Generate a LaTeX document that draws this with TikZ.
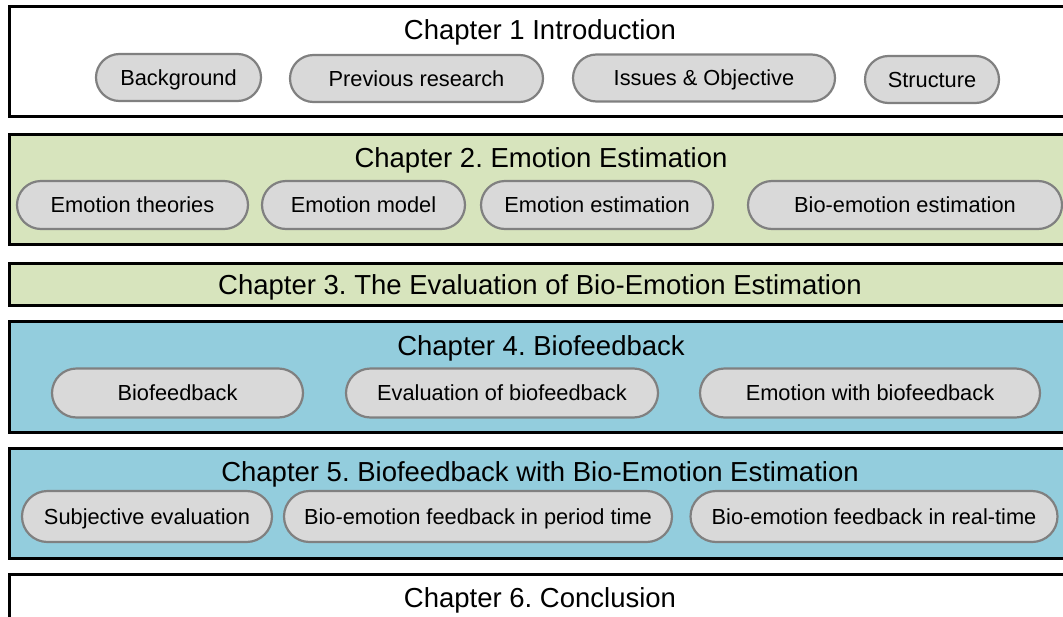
\documentclass[tikz,border=0pt]{standalone}
\usepackage{fontspec}
\setmainfont{Liberation Sans}
\frenchspacing
\definecolor{greenbg}{HTML}{D7E4BD}
\definecolor{bluebg}{HTML}{93CDDD}
\definecolor{pillfill}{HTML}{D9D9D9}
\definecolor{pillline}{HTML}{808080}
\begin{document}
\begin{tikzpicture}[x=1pt,y=-1pt,
  chapbox/.style={draw=black,line width=3pt},
  title/.style={font=\fontsize{27.5}{30}\selectfont\frenchspacing,inner sep=0pt,anchor=center,
    text height=19.7pt,text depth=0pt},
  pill/.style={draw=pillline,fill=pillfill,line width=2.2pt,rounded corners=23.5pt,
    minimum height=47pt,inner sep=0pt,font=\fontsize{21.8}{24}\selectfont,
    text height=15.6pt,text depth=0pt}]
\useasboundingbox (0,0) rectangle (1063,616);
\begin{scope}
\clip (0,0) rectangle (1063,616);
% chapter boxes
\draw[chapbox,fill=white] (9.5,6.5) rectangle (1075,116);
\draw[chapbox,fill=greenbg] (9.5,134.5) rectangle (1075,244);
\draw[chapbox,fill=greenbg] (9.5,263) rectangle (1075,305);
\draw[chapbox,fill=bluebg] (9.5,321.5) rectangle (1075,432);
\draw[chapbox,fill=bluebg] (9.5,448) rectangle (1075,558);
\draw[chapbox,fill=white] (9.5,574) rectangle (1075,640);
\end{scope}
% titles
\node[title] (t1) at (540,29.7) {Chapter 1 Introduction};
\node[title] (t2) at (541,157.5) {Chapter 2. Emotion Estimation};
\node[title] (t3) at (540,284.5) {Chapter 3. The Evaluation of Bio-Emotion Estimation};
\node[title] (t4) at (541,345.5) {Chapter 4. Biofeedback};
\node[title] (t5) at (540,472) {Chapter 5. Biofeedback with Bio-Emotion Estimation};
\node[title] (t6) at (540,598) {Chapter 6. Conclusion};
% chapter 1 pills
\node[pill,minimum width=165pt] (p11) at (178.5,77.5) {Background};
\node[pill,minimum width=253pt] (p12) at (416.5,78.5) {Previous research};
\node[pill,minimum width=262pt] (p13) at (704,78) {Issues \& Objective};
\node[pill,minimum width=134pt] (p14) at (932,79.5) {Structure};
% chapter 2 pills
\node[pill,minimum width=231pt,minimum height=48pt,rounded corners=24pt] (p21) at (132.5,205) {Emotion theories};
\node[pill,minimum width=203pt,minimum height=48pt,rounded corners=24pt] (p22) at (363.5,205) {Emotion model};
\node[pill,minimum width=232pt,minimum height=48pt,rounded corners=24pt] (p23) at (597,205) {Emotion estimation};
\node[pill,minimum width=314pt,minimum height=48pt,rounded corners=24pt] (p24) at (905,205) {Bio-emotion estimation};
% chapter 4 pills
\node[pill,minimum width=251pt,minimum height=49pt,rounded corners=24.5pt] (p41) at (177.5,393) {Biofeedback};
\node[pill,minimum width=312pt,minimum height=49pt,rounded corners=24.5pt] (p42) at (502,393) {Evaluation of biofeedback};
\node[pill,minimum width=340pt,minimum height=49pt,rounded corners=24.5pt] (p43) at (870,393) {Emotion with biofeedback};
% chapter 5 pills
\node[pill,minimum width=250pt,minimum height=51pt,rounded corners=25.5pt] (p51) at (147,516.5) {Subjective evaluation};
\node[pill,minimum width=388pt,minimum height=51pt,rounded corners=25.5pt] (p52) at (478,516.5) {Bio-emotion feedback in period time};
\node[pill,minimum width=367pt,minimum height=51pt,rounded corners=25.5pt] (p53) at (874,516.5) {Bio-emotion feedback in real-time};
\end{tikzpicture}
\end{document}
